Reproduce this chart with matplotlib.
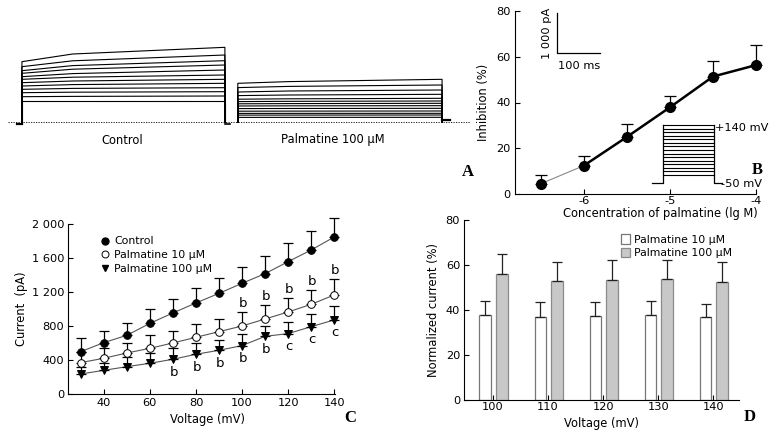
import numpy as np
import matplotlib.pyplot as plt
from matplotlib.patches import Patch
from matplotlib.lines import Line2D

W, H = 776, 432
plt.rcParams['font.family'] = ['DejaVu Sans']
plt.rcParams['font.size'] = 8
plt.rcParams['axes.unicode_minus'] = False
plt.rcParams['axes.linewidth'] = 0.8


def rect(l, t, r, b):
    return [l / W, 1 - b / H, (r - l) / W, (b - t) / H]


def px(x, y):
    return (x / W, 1 - y / H)


### Panel A: current traces (pA), start / early / end of each step ###
ctrl_start = [1508, 1383, 1283, 1217, 1133, 1067, 983, 900, 817, 733, 633, 525]
ctrl_mid = [1700, 1530, 1410, 1320, 1210, 1120, 1025, 935, 840, 745, 640, 525]
ctrl_end = [1867, 1675, 1533, 1425, 1300, 1175, 1067, 967, 858, 758, 650, 525]
palm_start = [967, 860, 750, 660, 570, 510, 455, 400, 335, 270, 215, 172, 115]
palm_mid = [1010, 890, 775, 675, 580, 517, 460, 404, 338, 272, 216, 173, 116]
palm_end = [1067, 925, 800, 692, 592, 525, 467, 408, 342, 275, 217, 175, 117]
ctrl_on, ctrl_off = 0, 472       # ms
palm_on, palm_off = 502, 977     # ms

### Panel B: concentration-inhibition ###
conc = [-6.5, -6.0, -5.5, -5.0, -4.5, -4.0]
inhib = [4.6, 12.5, 25.0, 37.9, 51.3, 56.3]
inhib_sem = [3.8, 4.1, 5.5, 4.9, 6.6, 8.6]

### Panel C: I-V curves ###
volt = [30, 40, 50, 60, 70, 80, 90, 100, 110, 120, 130, 140]
ctrl = [502, 608, 694, 835, 957, 1075, 1188, 1306, 1420, 1561, 1698, 1851]
ctrl_sem = [157, 141, 149, 165, 161, 176, 177, 192, 211, 215, 220, 220]
p10 = [373, 424, 486, 541, 604, 671, 737, 804, 886, 969, 1059, 1169]
p10_sem = [121, 117, 114, 153, 137, 153, 153, 161, 161, 160, 165, 184]
p100 = [239, 282, 325, 365, 412, 471, 518, 573, 682, 714, 796, 875]
p100_sem = [86, 83, 110, 125, 129, 133, 121, 133, 118, 141, 145, 164]
sig_p10 = {100: 'b', 110: 'b', 120: 'b', 130: 'b', 140: 'b'}
sig_p100 = {70: 'b', 80: 'b', 90: 'b', 100: 'b', 110: 'b', 120: 'c', 130: 'c', 140: 'c'}

### Panel D: normalized current ###
dvolt = ['100', '110', '120', '130', '140']
n10 = [37.8, 37.0, 37.5, 37.8, 37.0]
n10_sem = [6.3, 6.7, 6.2, 6.2, 6.0]
n100 = [56.1, 52.9, 53.3, 53.8, 52.4]
n100_sem = [8.9, 8.7, 8.9, 8.4, 8.9]

fig = plt.figure(figsize=(W / 100, H / 100), dpi=100)


def style(ax):
    for s in ['top', 'right']:
        ax.spines[s].set_visible(False)
    ax.tick_params(direction='in', length=3.5, width=0.8, pad=3, labelsize=8.2)


### A ###
axA = fig.add_axes(rect(0, 40, 470, 130))
axA.axis('off')
axA.set_xlim(-51, 1042)
axA.set_ylim(-200, 2050)
axA.plot([-33, 1042], [0, 0], ls=(0, (1.5, 1.5)), lw=0.6, color='black')
for on, off, s0, s1, s2 in [(ctrl_on, ctrl_off, ctrl_start, ctrl_mid, ctrl_end),
                            (palm_on, palm_off, palm_start, palm_mid, palm_end)]:
    dur = off - on
    for a, b, c in zip(s0, s1, s2):
        axA.plot([on, on, on + 0.25 * dur, off, off], [0, a, b, c, 0],
                 color='black', lw=0.8)
axA.plot([-12, 0], [-50, -50], color='black', lw=1.6)
axA.plot([ctrl_off, ctrl_off + 12], [-50, -50], color='black', lw=1.2)
axA.plot([palm_off, palm_off + 18], [40, 40], color='black', lw=1.6)
fig.text(*px(122, 140), 'Control', ha='center', va='center', fontsize=8.3)
fig.text(*px(333, 140), 'Palmatine 100 μM', ha='center', va='center', fontsize=8.3)

### B ###
axB = fig.add_axes(rect(515, 10.7, 756, 194.3))
style(axB)
axB.set_xlim(-6.8, -4.0)
axB.set_ylim(0, 80)
axB.set_xticks([-6, -5, -4])
axB.set_yticks([0, 20, 40, 60, 80])
axB.tick_params(axis='x', pad=1)
axB.plot(conc[:2], inhib[:2], color='#888888', lw=0.8, zorder=2)
axB.plot(conc[1:], inhib[1:], color='black', lw=1.8, zorder=2)
axB.errorbar(conc, inhib, yerr=[[0] * len(inhib), inhib_sem], fmt='none',
             ecolor='black', elinewidth=0.9, capsize=4, capthick=0.9, zorder=3,
             clip_on=False)
axB.plot(conc, inhib, 'o', color='black', ms=7, zorder=4, clip_on=False)
axB.set_xlabel('Concentration of palmatine (lg M)', va='center', fontsize=8.3)
axB.xaxis.set_label_coords(*px(660, 214), transform=fig.transFigure)
axB.set_ylabel('Inhibition (%)', va='center', fontsize=8.3)
axB.yaxis.set_label_coords(*px(483, 102), transform=fig.transFigure)

# overlay for inset drawings
ov = fig.add_axes([0, 0, 1, 1], zorder=5)
ov.set_xlim(0, W)
ov.set_ylim(H, 0)
ov.axis('off')
ov.patch.set_alpha(0)
# scale bar
ov.plot([557, 557, 600], [13, 53, 53], color='black', lw=0.9)
ov.text(547, 33, '1 000 pA', rotation=90, ha='center', va='center', fontsize=8.2)
ov.text(579, 66, '100 ms', ha='center', va='center', fontsize=8.2)
# voltage protocol
ov.plot([652, 662.5, 662.5], [183.3, 183.3, 125], color='black', lw=0.9)
ov.plot([713.5, 713.5, 721.5], [125, 183.3, 183.3], color='black', lw=0.9)
for yy in np.linspace(125, 175, 15):
    ov.plot([662.5, 713.5], [yy, yy], color='black', lw=0.8)
ov.text(715, 128, '+140 mV', ha='left', va='center', fontsize=8.2)
ov.text(721, 184, '-50 mV', ha='left', va='center', fontsize=8.2)

### C ###
axC = fig.add_axes(rect(68.3, 224.3, 335, 394.3))
style(axC)
axC.set_xlim(24.6, 140.3)
axC.set_ylim(0, 2000)
axC.set_xticks([40, 60, 80, 100, 120, 140])
axC.set_yticks([0, 400, 800, 1200, 1600, 2000])
axC.set_yticklabels(['0', '400', '800', '1 200', '1 600', '2 000'])
for m, sem, mk, fc in [(ctrl, ctrl_sem, 'o', 'black'), (p10, p10_sem, 'o', 'white'),
                       (p100, p100_sem, 'v', 'black')]:
    axC.plot(volt, m, color='#555555', lw=0.8, zorder=2)
    axC.errorbar(volt, m, yerr=[[0] * len(m), sem], fmt='none', ecolor='black',
                 elinewidth=0.9, capsize=3.5, capthick=0.9, zorder=3, clip_on=False)
    axC.plot(volt, m, mk, mfc=fc, mec='black', mew=0.7, ms=5.5, zorder=4,
             clip_on=False)
for v, s in sig_p10.items():
    i = volt.index(v)
    axC.annotate(s, (v, p10[i] + p10_sem[i]), xytext=(0.7, 3.5),
                 textcoords='offset points', ha='center', va='baseline', fontsize=9.5)
for v, s in sig_p100.items():
    i = volt.index(v)
    axC.annotate(s, (v, p100[i]), xytext=(0.7, -11.8),
                 textcoords='offset points', ha='center', va='baseline', fontsize=9.5)
hC = [Line2D([], [], ls='none', marker='o', mfc='black', mec='black', ms=5),
      Line2D([], [], ls='none', marker='o', mfc='white', mec='black', mew=0.7, ms=5),
      Line2D([], [], ls='none', marker='v', mfc='black', mec='black', ms=5)]
axC.legend(hC, ['Control', 'Palmatine 10 μM', 'Palmatine 100 μM'], loc='upper left',
           bbox_to_anchor=px(95, 231), bbox_transform=fig.transFigure, frameon=False,
           handlelength=0.8, handletextpad=0.45, labelspacing=0.35, borderpad=0,
           fontsize=7.8)
axC.set_xlabel('Voltage (mV)', va='center', fontsize=8.3)
axC.xaxis.set_label_coords(*px(207, 420), transform=fig.transFigure)
axC.set_ylabel('Current  (pA)', va='center', fontsize=8.3)
axC.yaxis.set_label_coords(*px(22, 309), transform=fig.transFigure)

### D ###
axD = fig.add_axes(rect(464.3, 220.3, 739.3, 400.3))
style(axD)
x = np.arange(len(dvolt))
axD.set_xlim(-0.52, 4.47)
axD.set_ylim(0, 80)
axD.set_xticks(x)
axD.set_xticklabels(dvolt)
axD.set_yticks([0, 20, 40, 60, 80])
axD.tick_params(axis='x', pad=1)
bw = 0.21
axD.bar(x - 0.14, n10, bw, color='white', edgecolor='#777777', lw=0.9, zorder=2)
axD.bar(x + 0.16, n100, bw, color='#c8c8c8', edgecolor='#8a8a8a', lw=0.9, zorder=2)
axD.errorbar(x - 0.14, n10, yerr=[[0] * 5, n10_sem], fmt='none', ecolor='#222222',
             elinewidth=0.9, capsize=3.5, capthick=0.9, zorder=3)
axD.errorbar(x + 0.16, n100, yerr=[[0] * 5, n100_sem], fmt='none', ecolor='#222222',
             elinewidth=0.9, capsize=3.5, capthick=0.9, zorder=3)
hD = [Patch(facecolor='white', edgecolor='#777777', lw=0.9),
      Patch(facecolor='#c8c8c8', edgecolor='#8a8a8a', lw=0.9)]
axD.legend(hD, ['Palmatine 10 μM', 'Palmatine 100 μM'], loc='upper left',
           bbox_to_anchor=px(616, 229), bbox_transform=fig.transFigure, frameon=False,
           handlelength=0.75, handleheight=1.0, handletextpad=0.45, labelspacing=0.25,
           borderpad=0, fontsize=7.8)
axD.set_xlabel('Voltage (mV)', va='center', fontsize=8.3)
axD.xaxis.set_label_coords(*px(602, 423), transform=fig.transFigure)
axD.set_ylabel('Normalized current (%)', va='center', fontsize=8.3)
axD.yaxis.set_label_coords(*px(433, 310), transform=fig.transFigure)

### panel letters ###
for letter, (lx, ly) in {'A': (468, 172), 'B': (757, 170), 'C': (350, 418),
                         'D': (750, 417)}.items():
    fig.text(*px(lx, ly), letter, ha='center', va='center', fontsize=12,
             fontweight='bold', family='Liberation Serif')

fig.savefig('out.png', dpi=100)
